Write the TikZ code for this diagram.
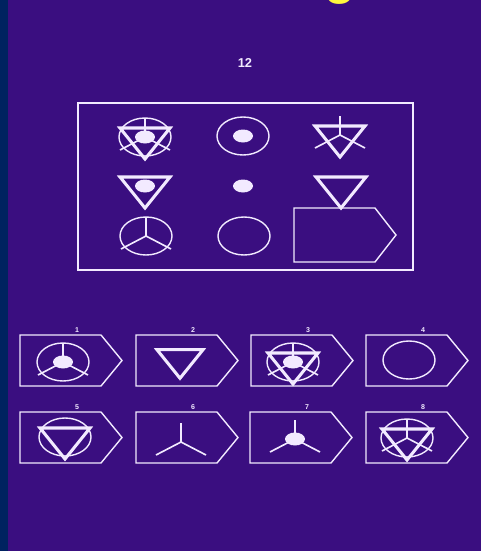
\documentclass[tikz,border=0pt]{standalone}
\usepackage{fontspec}
\setsansfont{Liberation Sans}
\definecolor{bgpurple}{RGB}{58,14,128}
\definecolor{stripblue}{RGB}{0,34,96}
\definecolor{chalk}{RGB}{242,234,255}
\definecolor{titleyellow}{RGB}{255,248,60}

\tikzset{
  thinline/.style={draw=chalk, line width=1.2pt},
  thickline/.style={draw=chalk, line width=2.6pt},
  optlabel/.style={text=chalk, font=\sffamily\bfseries\fontsize{6}{6}\selectfont, inner sep=0pt},
  % symbols, centred on the cell
  ring/.pic={\draw[thinline] (0,0) ellipse [x radius=26, y radius=19];},
  tri/.pic={\draw[thickline] (-25,-9) -- (25,-9) -- (0,22) -- cycle;},
  spokes/.pic={\draw[thinline, line width=1.4pt] (0,-19) -- (0,0) -- (-25,13) (0,0) -- (25,13);},
  blob/.pic={\fill[chalk] (0,0) ellipse [x radius=10, y radius=6.5];},
  % answer card, from its top left corner
  card/.pic={\draw[thinline] (0,0) -- (81,0) -- (102,25.5) -- (81,51) -- (0,51) -- cycle;},
}

\begin{document}
\begin{tikzpicture}[x=0.03cm, y=-0.03cm]

% Background
\useasboundingbox (0,0) rectangle (481,551);
\fill[bgpurple] (0,0) rectangle (481,551);
\fill[stripblue] (0,0) rectangle (8,551);

% Title, cut off at the top
\node[text=titleyellow, font=\sffamily\bfseries\fontsize{44}{44}\selectfont, anchor=base] (title) at (340,-7) {g};

% Question number
\node[text=chalk, font=\sffamily\bfseries\fontsize{11}{11}\selectfont] (qnum) at (245,63) {12};

% Matrix frame
\draw[thinline] (78,103) rectangle (413,270);

% Row 1
\pic at (145,137) {ring};
\pic at (145,137) {tri};
\pic at (145,137) {spokes};
\pic at (145,137) {blob};
\pic at (243,136) {ring};
\pic at (243,136) {blob};
\pic at (340,135) {tri};
\pic at (340,135) {spokes};

% Row 2
\pic at (145,186) {tri};
\pic at (145,186) {blob};
\pic at (243,186) {blob};
\pic at (341,186) {tri};

% Row 3
\pic at (146,236) {ring};
\pic at (146,236) {spokes};
\pic at (244,236) {ring};

% Empty cell
\draw[thinline] (294,208) -- (375,208) -- (396,235) -- (375,262) -- (294,262) -- cycle;

% Answer cards
\foreach \n/\x/\y in {1/20/335, 2/136/335, 3/251/335, 4/366/335,
                      5/20/412, 6/136/412, 7/250/412, 8/366/412} {
  \pic at (\x,\y) {card};
  \node[optlabel] (lab\n) at (\x+57,\y-5) {\n};
}

% Card contents
\pic at (63,362) {ring};
\pic at (63,362) {spokes};
\pic at (63,362) {blob};

\pic[scale=0.92] at (180,358) {tri};

\pic at (293,362) {ring};
\pic at (293,362) {tri};
\pic at (293,362) {spokes};
\pic at (293,362) {blob};

\pic at (409,360) {ring};

\pic at (65,437) {ring};
\pic at (65,437) {tri};

\pic at (181,442) {spokes};

\pic at (295,439) {spokes};
\pic at (295,439) {blob};

\pic at (407,438) {ring};
\pic at (407,438) {tri};
\pic at (407,438) {spokes};

\end{tikzpicture}
\end{document}
